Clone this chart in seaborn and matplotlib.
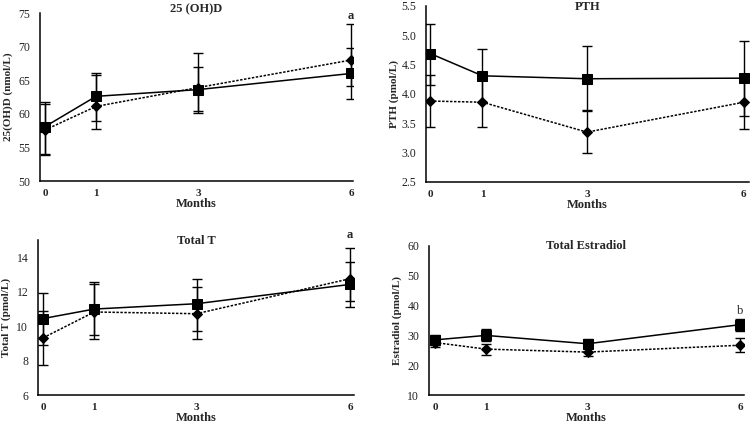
import numpy as np
import pandas as pd
import matplotlib
matplotlib.use("Agg")
import matplotlib.pyplot as plt
import seaborn as sns

# ---------------- data ----------------
months = [0, 1, 3, 6]

# 25(OH)D (nmol/L)
vitd_sq = [58.1, 62.6, 63.6, 66.0]
vitd_sq_lo = [54.0, 59.0, 60.1, 62.2]
vitd_sq_hi = [61.8, 66.1, 69.0, 69.8]
vitd_dm = [57.6, 61.1, 63.9, 68.0]
vitd_dm_lo = [53.8, 57.7, 60.4, 64.2]
vitd_dm_hi = [61.4, 65.8, 67.0, 73.4]

# PTH (pmol/L)
pth_sq = [4.69, 4.31, 4.26, 4.27]
pth_sq_lo = [4.16, 3.86, 3.72, 3.63]
pth_sq_hi = [5.20, 4.76, 4.82, 4.91]
pth_dm = [3.88, 3.86, 3.35, 3.86]
pth_dm_lo = [3.44, 3.44, 3.00, 3.40]
pth_dm_hi = [4.32, 4.28, 3.71, 4.31]

# Total T (pmol/L)
tt_sq = [10.44, 10.99, 11.30, 12.42]
tt_sq_lo = [8.90, 9.51, 9.74, 11.13]
tt_sq_hi = [11.94, 12.54, 12.75, 13.75]
tt_dm = [9.32, 10.82, 10.72, 12.75]
tt_dm_lo = [7.76, 9.28, 9.24, 11.44]
tt_dm_hi = [10.88, 12.42, 12.27, 14.52]

# Estradiol (pmol/L)
e2_sq = [28.5, 30.0, 27.2, 33.6]
e2_sq_lo = [26.8, 28.0, 25.7, 31.6]
e2_sq_hi = [30.3, 32.0, 28.9, 35.4]
e2_dm = [27.6, 25.4, 24.4, 26.7]
e2_dm_lo = [26.1, 23.4, 23.0, 24.4]
e2_dm_hi = [29.0, 27.2, 25.7, 29.2]

titles = ["25 (OH)D", "PTH", "Total T", "Total Estradiol"]
ylabels = ["25(OH)D (nmol/L)", "PTH (pmol/L)", "Total T (pmol/L)", "Estradiol (pmol/L)"]
xlabel = "Months"
sig_labels = ["a", "", "a", "b"]

# ---------------- style ----------------
sns.set_style("white")
plt.rcParams["font.family"] = ["Liberation Serif", "DejaVu Serif"]

fig = plt.figure(figsize=(7.52, 4.25), dpi=100)
W, H = 752, 425


def add_axes(l, r, t, b):
    return fig.add_axes([l / W, 1 - b / H, (r - l) / W, (b - t) / H])


panels = [
    dict(box=(40, 353, 13, 181), ylim=(50, 75), yticks=[50, 55, 60, 65, 70, 75], fmt="{:.0f}",
         sq=(vitd_sq, vitd_sq_lo, vitd_sq_hi), dm=(vitd_dm, vitd_dm_lo, vitd_dm_hi),
         title_y=9, sig_y=74.6, xlim=(-0.1, 6.04)),
    dict(box=(426, 749, 6, 182), ylim=(2.5, 5.5), yticks=[2.5, 3.0, 3.5, 4.0, 4.5, 5.0, 5.5], fmt="{:.1f}",
         sq=(pth_sq, pth_sq_lo, pth_sq_hi), dm=(pth_dm, pth_dm_lo, pth_dm_hi),
         title_y=7, sig_y=None, xlim=(-0.08, 6.1)),
    dict(box=(38, 354, 240, 395), ylim=(6, 15), yticks=[6, 8, 10, 12, 14], fmt="{:.0f}",
         sq=(tt_sq, tt_sq_lo, tt_sq_hi), dm=(tt_dm, tt_dm_lo, tt_dm_hi),
         title_y=241, sig_y=15.3, xlim=(-0.1, 6.08)),
    dict(box=(429, 744, 246, 395), ylim=(10, 60), yticks=[10, 20, 30, 40, 50, 60], fmt="{:.0f}",
         sq=(e2_sq, e2_sq_lo, e2_sq_hi), dm=(e2_dm, e2_dm_lo, e2_dm_hi),
         title_y=246, sig_y=38.3, xlim=(-0.12, 6.08)),
]

for i, p in enumerate(panels):
    l, r, t, b = p["box"]
    ax = add_axes(l, r, t, b)
    for key, marker, ms, ls in [("dm", "D", 5, (0, (1.6, 1.0))), ("sq", "s", 7.5, "-")]:
        mean, lo, hi = p[key]
        mean = np.asarray(mean); lo = np.asarray(lo); hi = np.asarray(hi)
        ax.errorbar(months, mean, yerr=[mean - lo, hi - mean], fmt="none",
                    ecolor="black", elinewidth=1, capsize=3.5, capthick=1, zorder=2)
        df = pd.DataFrame({"month": months, "value": mean})
        sns.lineplot(data=df, x="month", y="value", ax=ax, color="black",
                     linestyle=ls, linewidth=1.1, marker=marker, markersize=ms,
                     markeredgecolor="black", markerfacecolor="black", zorder=3)
    ax.set_xlim(*p["xlim"])
    ax.set_ylim(*p["ylim"])
    ax.set_xticks(months)
    ax.set_xticklabels([str(m) for m in months], fontweight="bold", fontsize=8)
    ax.set_yticks(p["yticks"])
    ax.set_yticklabels([p["fmt"].format(v) for v in p["yticks"]], fontsize=8.5, color="#222222")
    ax.tick_params(axis="both", length=0)
    ax.tick_params(axis="x", pad=6)
    ax.tick_params(axis="y", pad=7)
    for s in ["top", "right"]:
        ax.spines[s].set_visible(False)
    for s in ["left", "bottom"]:
        ax.spines[s].set_color("black")
        ax.spines[s].set_linewidth(1.1)
    ax.grid(False)
    ax.set_xlabel(xlabel, fontsize=9, fontweight="bold")
    ax.set_ylabel(ylabels[i], fontsize=8, fontweight="bold")
    ax.xaxis.set_label_coords(0.5, -23 / (b - t))
    ax.xaxis.label.set_va("center")
    ax.yaxis.set_label_coords(-32 / (r - l), 0.5)
    ax.yaxis.label.set_va("center")
    fig.text((l + r) / 2 / W, 1 - p["title_y"] / H, titles[i], ha="center", va="center",
             fontsize=9, fontweight="bold")
    if sig_labels[i]:
        ax.text(6, p["sig_y"], sig_labels[i], ha="center", va="center", fontsize=9,
                fontweight="bold" if sig_labels[i] == "a" else "normal", clip_on=False)

fig.savefig("out.png", dpi=100)
